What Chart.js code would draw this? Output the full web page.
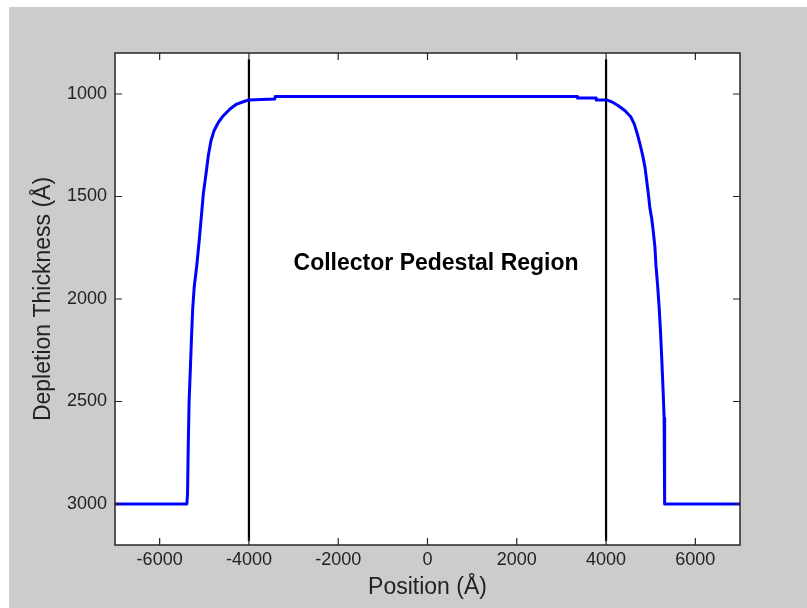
<!DOCTYPE html>
<html>
<head>
<meta charset="utf-8">
<script src="https://cdn.jsdelivr.net/npm/chart.js@4"></script>
<style>
  html, body { margin: 0; padding: 0; background: #ffffff; }
  #wrap { position: relative; width: 807px; height: 608px; overflow: hidden; }
  #figbg { position: absolute; left: 9px; top: 7px; right: 0; bottom: 0; background: #cccccc; }
  #chart { position: absolute; left: 0; top: 0; }
</style>
</head>
<body>
<div id="wrap">
  <div id="figbg"></div>
  <canvas id="chart" width="807" height="608"></canvas>
</div>
<script>
// depletion profile
const positions = [-7000, -5390, -5375, -5358, -5340, -5310, -5285, -5260, -5225, -5170, -5120, -5075,
  -5022, -4962, -4910, -4850, -4782, -4686, -4574, -4424, -4274, -4126, -4005, -3420, -3410,
  3350, 3360, 3775, 3780, 4014, 4126, 4275, 4425, 4552, 4633, 4700, 4760, 4821, 4872, 4910,
  4947, 4984, 5021, 5057, 5094, 5117, 5155, 5190, 5222, 5251, 5280, 5300, 5306, 5318, 7000];
const thickness = [3000, 3000, 2950, 2700, 2500, 2330, 2180, 2050, 1940, 1840, 1730, 1620,
  1488, 1391, 1301, 1228, 1179, 1139, 1106, 1073, 1049, 1038, 1029, 1024, 1012,
  1012, 1020, 1020, 1029, 1029, 1038, 1057, 1082, 1111, 1147, 1195, 1244, 1301, 1358, 1423,
  1488, 1560, 1605, 1670, 1745, 1835, 1935, 2045, 2170, 2310, 2460, 2580, 2960, 3000, 3000];

// region markers
const markerX = [-4000, 4000];
const markerY = [830, 3180];

const xTicks = [-6000, -4000, -2000, 0, 2000, 4000, 6000];
const yTicks = [1000, 1500, 2000, 2500, 3000];

const regionLabel = "Collector Pedestal Region";
const labelAt = { x: -3000, y: 1830 };

const inkColor = "#262626";

function profilePoints() {
    return positions.map((p, i) => ({ x: p, y: thickness[i] }));
}

function markerDataset(xv) {
    return {
        data: markerY.map(y => ({ x: xv, y: y })),
        borderColor: "#000000",
        borderWidth: 2.2,
        pointRadius: 0,
        showLine: true,
        tension: 0
    };
}

// white plot area, box, inward ticks on all sides, and the text
const axesBox = {
    id: "axesBox",
    beforeDraw(chart) {
        const { ctx, chartArea: a } = chart;
        ctx.save();
        ctx.fillStyle = "#ffffff";
        ctx.fillRect(a.left, a.top, a.right - a.left, a.bottom - a.top);
        ctx.restore();
    },
    afterDatasetsDraw(chart) {
        const { ctx, chartArea: a, scales } = chart;
        ctx.save();
        ctx.strokeStyle = inkColor;
        ctx.lineWidth = 1.5;
        ctx.strokeRect(a.left, a.top, a.right - a.left, a.bottom - a.top);
        ctx.lineWidth = 1.2;
        const len = 7;
        ctx.beginPath();
        xTicks.forEach(v => {
            const px = scales.x.getPixelForValue(v);
            ctx.moveTo(px, a.bottom); ctx.lineTo(px, a.bottom - len);
            ctx.moveTo(px, a.top); ctx.lineTo(px, a.top + len);
        });
        yTicks.forEach(v => {
            const py = scales.y.getPixelForValue(v);
            ctx.moveTo(a.left, py); ctx.lineTo(a.left + len, py);
            ctx.moveTo(a.right, py); ctx.lineTo(a.right - len, py);
        });
        ctx.stroke();

        ctx.fillStyle = "#000000";
        ctx.font = "bold 23px 'Liberation Sans', Arial, sans-serif";
        ctx.textAlign = "left";
        ctx.textBaseline = "middle";
        ctx.fillText(regionLabel, scales.x.getPixelForValue(labelAt.x), scales.y.getPixelForValue(labelAt.y));
        ctx.restore();
    }
};

const tickFont = { family: "'Liberation Sans', Arial, sans-serif", size: 18 };
const titleFont = { family: "'Liberation Sans', Arial, sans-serif", size: 23 };

new Chart(document.getElementById("chart").getContext("2d"), {
    type: "scatter",
    data: {
        datasets: [
            {
                data: profilePoints(),
                borderColor: "#0000ff",
                borderWidth: 3,
                borderJoinStyle: "round",
                borderCapStyle: "round",
                pointRadius: 0,
                showLine: true,
                tension: 0
            },
            markerDataset(markerX[0]),
            markerDataset(markerX[1])
        ]
    },
    options: {
        responsive: false,
        animation: false,
        devicePixelRatio: 1,
        layout: { padding: { top: 53, right: 67, left: 0, bottom: 0 } },
        plugins: { legend: { display: false }, tooltip: { enabled: false } },
        scales: {
            x: {
                type: "linear",
                min: -7000,
                max: 7000,
                grid: { display: false, drawTicks: false },
                border: { display: false },
                afterBuildTicks: scale => { scale.ticks = xTicks.map(v => ({ value: v })); },
                afterFit: scale => { scale.height = 63; },
                ticks: {
                    color: "#222222",
                    font: tickFont,
                    padding: 4,
                    maxRotation: 0,
                    callback: v => String(v)
                },
                title: {
                    display: true,
                    text: "Position (Å)",
                    color: "#222222",
                    font: titleFont,
                    padding: { top: 0, bottom: 7 }
                }
            },
            y: {
                type: "linear",
                min: 800,
                max: 3200,
                reverse: true,
                grid: { display: false, drawTicks: false },
                border: { display: false },
                afterBuildTicks: scale => { scale.ticks = yTicks.map(v => ({ value: v })); },
                afterFit: scale => { scale.width = 115; },
                ticks: {
                    color: "#222222",
                    font: tickFont,
                    padding: 8,
                    callback: v => String(v)
                },
                title: {
                    display: true,
                    text: "Depletion Thickness (Å)",
                    color: "#222222",
                    font: titleFont,
                    padding: { top: 30, bottom: 0 }
                }
            }
        }
    },
    plugins: [axesBox]
});
</script>
</body>
</html>
